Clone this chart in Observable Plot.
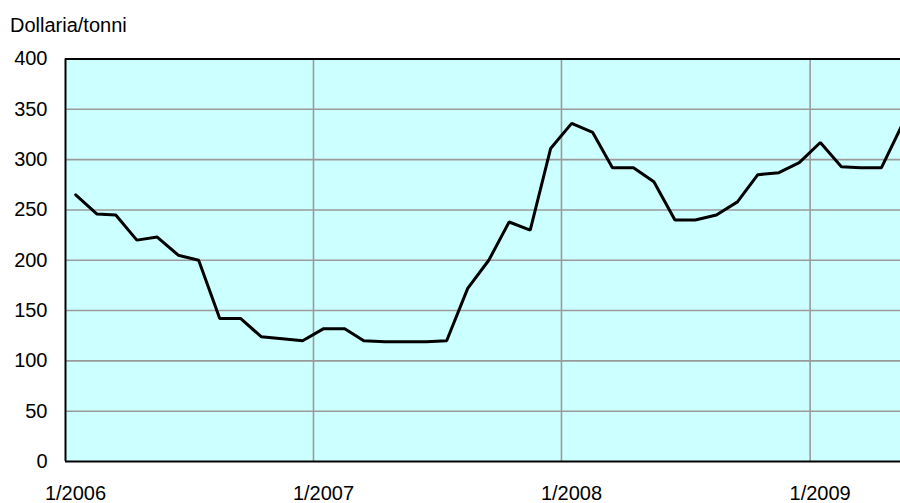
<!DOCTYPE html>
<html>
<head>
<meta charset="utf-8">
<script src="https://cdn.jsdelivr.net/npm/d3@7"></script>
<script src="https://cdn.jsdelivr.net/npm/@observablehq/plot@0.6"></script>
<style>
  html, body { margin: 0; padding: 0; background: #fff; width: 900px; overflow: hidden; }
  #title { height: 40px; box-sizing: border-box; padding: 15px 0 0 10px; font: 20px "Liberation Sans", Arial, sans-serif; line-height: 1; color: #000; }
  svg { display: block; }
</style>
</head>
<body>
<div id="title">Dollaria/tonni</div>
<div id="chart"></div>
<script>
// Monthly values (month index 0 = 1/2006)
const months = [
  "2006-01","2006-02","2006-03","2006-04","2006-05","2006-06","2006-07","2006-08","2006-09","2006-10","2006-11","2006-12",
  "2007-01","2007-02","2007-03","2007-04","2007-05","2007-06","2007-07","2007-08","2007-09","2007-10","2007-11","2007-12",
  "2008-01","2008-02","2008-03","2008-04","2008-05","2008-06","2008-07","2008-08","2008-09","2008-10","2008-11","2008-12",
  "2009-01","2009-02","2009-03","2009-04","2009-05"
];
const prices = [
  265, 246, 245, 220, 223, 205, 200, 142, 142, 124, 122, 120,
  132, 132, 120, 119, 119, 119, 120, 172, 200, 238, 230, 311,
  336, 327, 292, 292, 278, 240, 240, 245, 258, 285, 287, 297,
  317, 293, 292, 292, 334
];
const yTicks = [0, 50, 100, 150, 200, 250, 300, 350, 400];
const yearTicks = ["2006-01-01", "2007-01-01", "2008-01-01", "2009-01-01"];
const xDomain = ["2006-01-01", "2009-05-14"];

const parse = d3.utcParse("%Y-%m-%d");
const data = months.map((m, i) => {
  const [y, mo] = m.split("-").map(Number);
  return {date: new Date(Date.UTC(y, mo - 1, 16)), value: prices[i]};
});
const yearDates = yearTicks.map(parse);

const font = '"Liberation Sans", Arial, sans-serif';

const chart = Plot.plot({
  width: 900,
  height: 463,
  marginLeft: 65,
  marginRight: 0,
  marginTop: 18.5,
  marginBottom: 42,
  style: {fontFamily: font, fontSize: "20px", color: "#000", background: "transparent", overflow: "hidden"},
  x: {type: "utc", domain: xDomain.map(parse)},
  y: {domain: [0, 400]},
  marks: [
    Plot.frame({fill: "#CCFFFF", stroke: null}),
    Plot.ruleY(yTicks.filter(d => d > 0 && d < 400), {stroke: "#9a9a9a", strokeWidth: 1.6}),
    Plot.ruleX(yearDates.slice(1), {stroke: "#9a9a9a", strokeWidth: 1.6}),
    Plot.ruleY([0, 400], {stroke: "#000", strokeWidth: 2}),
    Plot.ruleX([yearDates[0]], {stroke: "#000", strokeWidth: 2}),
    Plot.axisY({ticks: yTicks, tickSize: 0, tickPadding: 18, label: null, fontSize: 20}),
    Plot.axisX({ticks: yearDates, tickSize: 0, tickPadding: 24, dx: 10, label: null, fontSize: 20,
      tickFormat: d => `1/${d.getUTCFullYear()}`}),
    Plot.lineY(data, {x: "date", y: "value", stroke: "#000", strokeWidth: 3, strokeLinejoin: "miter", clip: true})
  ]
});
document.getElementById("chart").appendChild(chart);
</script>
</body>
</html>
